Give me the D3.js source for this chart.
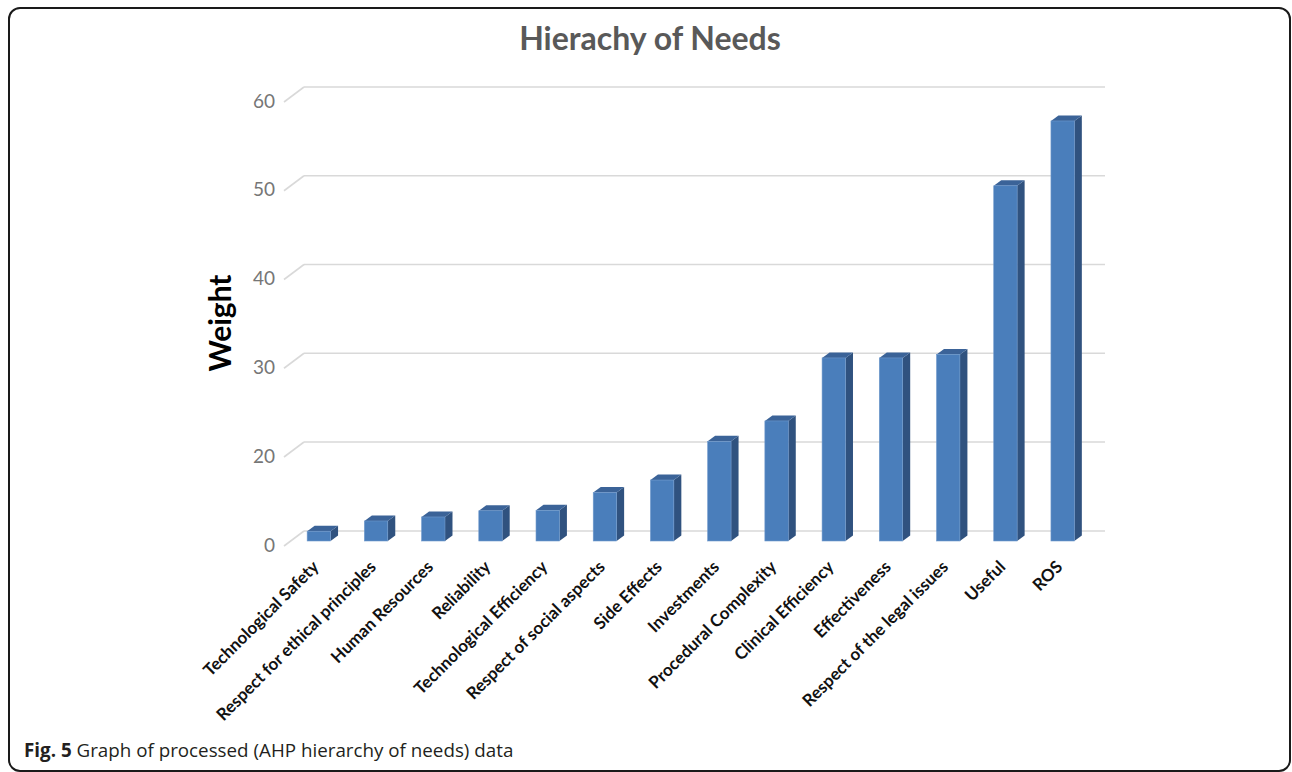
<!DOCTYPE html>
<html>
<head>
<meta charset="utf-8">
<script src="https://cdn.jsdelivr.net/npm/d3@7"></script>
<style>
  body { margin: 0; background: #fff; }
  svg { display: block; }
</style>
</head>
<body>
<div id="chart"></div>
<script>

// categories along the x axis
var categories = [
    "Technological Safety", "Respect for ethical principles", "Human Resources",
    "Reliability", "Technological Efficiency", "Respect of social aspects",
    "Side Effects", "Investments", "Procedural Complexity", "Clinical Efficiency",
    "Effectiveness", "Respect of the legal issues", "Useful", "ROS"
];

// weight of each category
var weights = [2.2, 4.5, 5.4, 6.8, 6.9, 10.9, 13.7, 21.2, 23.5, 30.6, 30.6, 31.0, 50.0, 57.3];

// tick labels printed on the y axis (no "10" in the source)
var yTicks = [0, 20, 30, 40, 50, 60];

var title = "Hierachy of Needs";
var yTitle = "Weight";


//******************************************************************************
//**  chart
//******************************************************************************

var width = 1292, height = 772;

var svg = d3.select("#chart").append("svg")
    .attr("width", width)
    .attr("height", height);

// frame round the figure
svg.append("rect")
    .attr("x", 9).attr("y", 8)
    .attr("width", 1281).attr("height", 763)
    .attr("rx", 11)
    .attr("fill", "none")
    .attr("stroke", "#1a1a1a")
    .attr("stroke-width", 2);

var depth = {dx: -20, dy: 15};   // back wall -> front of floor
var barDepth = {dx: 7.5, dy: -5.5};
var barShift = {dx: -10, dy: 10}; // back wall -> bar front plane

// y scale on the back wall. the axis as printed jumps from 0 straight to 20
var y = d3.scaleLinear()
    .domain([0, 20, 60])
    .range([531, 442, 87]);

var x = d3.scaleBand()
    .domain(categories)
    .range([304, 1105]);

var barW = 23.4;
var barOffset = (x.bandwidth() - barW - barDepth.dx) / 2;

// gridlines on the back wall
var grid = svg.append("g").attr("class", "grid");
grid.selectAll("line.h")
    .data(yTicks)
    .enter()
    .append("line")
    .attr("class", "h")
    .attr("x1", x.range()[0])
    .attr("x2", x.range()[1])
    .attr("y1", function(d){ return y(d); })
    .attr("y2", function(d){ return y(d); })
    .attr("stroke", "#d9d9d9")
    .attr("stroke-width", 1.6);

// side wall diagonals
grid.selectAll("line.d")
    .data(yTicks)
    .enter()
    .append("line")
    .attr("class", "d")
    .attr("x1", x.range()[0] + depth.dx)
    .attr("x2", x.range()[0])
    .attr("y1", function(d){ return y(d) + depth.dy; })
    .attr("y2", function(d){ return y(d); })
    .attr("stroke", "#d9d9d9")
    .attr("stroke-width", 1.6);

// tick labels
svg.append("g").selectAll("text")
    .data(yTicks)
    .enter()
    .append("text")
    .attr("x", x.range()[0] + depth.dx - 9)
    .attr("y", function(d){ return y(d) + depth.dy - 1; })
    .attr("dy", "0.35em")
    .attr("text-anchor", "end")
    .attr("font-family", "Lato, 'Open Sans', sans-serif")
    .attr("font-size", "19px")
    .attr("fill", "#767676")
    .text(function(d){ return d; });

// bars with a little 3d look
var data = categories.map(function(c, i){ return {name: c, value: weights[i]}; });

var bars = svg.append("g").selectAll("g.bar")
    .data(data)
    .enter()
    .append("g")
    .attr("class", "bar");

function barLeft(d){ return x(d.name) + barShift.dx + barOffset; }
function barTop(d){ return y(d.value) + barShift.dy; }
var base = y(0) + barShift.dy;

// side face
bars.append("path")
    .attr("d", function(d){
        var l = barLeft(d) + barW, t = barTop(d);
        return "M" + l + "," + t +
            "L" + (l + barDepth.dx) + "," + (t + barDepth.dy) +
            "L" + (l + barDepth.dx) + "," + (base + barDepth.dy) +
            "L" + l + "," + base + "Z";
    })
    .attr("fill", "#30527f");

// top face
bars.append("path")
    .attr("d", function(d){
        var l = barLeft(d), t = barTop(d);
        return "M" + l + "," + t +
            "L" + (l + barDepth.dx) + "," + (t + barDepth.dy) +
            "L" + (l + barW + barDepth.dx) + "," + (t + barDepth.dy) +
            "L" + (l + barW) + "," + t + "Z";
    })
    .attr("fill", "#3b6398");

// front face
bars.append("rect")
    .attr("x", barLeft)
    .attr("y", barTop)
    .attr("width", barW)
    .attr("height", function(d){ return base - barTop(d); })
    .attr("fill", "#4a7ebb")
    .attr("stroke", "#6f99cc")
    .attr("stroke-width", 0.6);

// category labels, turned 45 degrees
svg.append("g").selectAll("text")
    .data(categories)
    .enter()
    .append("text")
    .attr("transform", function(d){
        var cx = x(d) + barShift.dx + barOffset + barW / 2 + 1;
        return "translate(" + cx + ",568) rotate(-45)";
    })
    .attr("text-anchor", "end")
    .attr("font-family", "Lato, 'Open Sans', sans-serif")
    .attr("font-weight", "bold")
    .attr("font-size", "17px")
    .attr("fill", "#111")
    .text(function(d){ return d; });

// chart title
svg.append("text")
    .attr("x", 650)
    .attr("y", 50)
    .attr("text-anchor", "middle")
    .attr("font-family", "Lato, 'Open Sans', sans-serif")
    .attr("font-weight", "bold")
    .attr("font-size", "32px")
    .attr("fill", "#595959")
    .text(title);

// y axis title
svg.append("text")
    .attr("transform", "translate(231,323) rotate(-90)")
    .attr("text-anchor", "middle")
    .attr("font-family", "Lato, 'Open Sans', sans-serif")
    .attr("font-weight", "bold")
    .attr("font-size", "30px")
    .attr("fill", "#000")
    .text(yTitle);

// figure caption
var cap = svg.append("text")
    .attr("x", 24)
    .attr("y", 757)
    .attr("font-family", "'Open Sans', sans-serif")
    .attr("font-size", "18.8px")
    .attr("fill", "#231f20");
cap.append("tspan").attr("font-weight", "bold").text("Fig. 5");
cap.append("tspan").text(" Graph of processed (AHP hierarchy of needs) data");

</script>
</body>
</html>
